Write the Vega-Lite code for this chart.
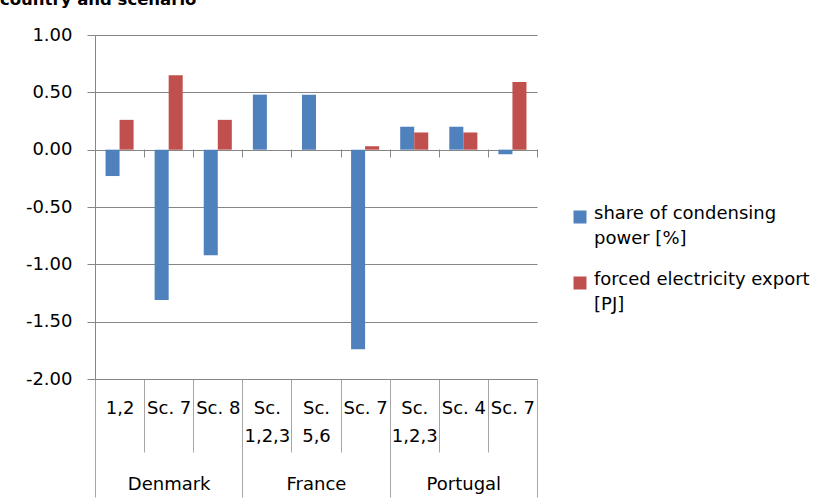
{
  "$schema": "https://vega.github.io/schema/vega-lite/v6.json",
  "width": 442,
  "height": 344,
  "autosize": "none",
  "padding": {"left": 95, "top": 35, "right": 293, "bottom": 122},
  "background": "white",
  "title": {"text": "country and scenario", "anchor": "start", "frame": "group", "font": "DejaVu Sans", "fontWeight": "bold", "fontSize": 16.5, "color": "#000000", "dx": -95, "dy": -5, "offset": 0, "baseline": "alphabetic"},
  "config": {
    "font": "DejaVu Sans",
    "view": {"stroke": null},
    "axis": {"labelFont": "DejaVu Sans", "labelFontSize": 18, "labelColor": "#000000", "titleFont": "DejaVu Sans"},
    "legend": {"labelFont": "DejaVu Sans"}
  },
  "data": {
    "values": [
      {"country": "Denmark", "slot": "Denmark|1,2", "series": "share of condensing power [%]", "value": -0.23},
      {"country": "Denmark", "slot": "Denmark|1,2", "series": "forced electricity export [PJ]", "value": 0.26},
      {"country": "Denmark", "slot": "Denmark|Sc. 7", "series": "share of condensing power [%]", "value": -1.31},
      {"country": "Denmark", "slot": "Denmark|Sc. 7", "series": "forced electricity export [PJ]", "value": 0.65},
      {"country": "Denmark", "slot": "Denmark|Sc. 8", "series": "share of condensing power [%]", "value": -0.92},
      {"country": "Denmark", "slot": "Denmark|Sc. 8", "series": "forced electricity export [PJ]", "value": 0.26},
      {"country": "France", "slot": "France|Sc.|1,2,3", "series": "share of condensing power [%]", "value": 0.48},
      {"country": "France", "slot": "France|Sc.|1,2,3", "series": "forced electricity export [PJ]", "value": 0},
      {"country": "France", "slot": "France|Sc.|5,6", "series": "share of condensing power [%]", "value": 0.48},
      {"country": "France", "slot": "France|Sc.|5,6", "series": "forced electricity export [PJ]", "value": 0},
      {"country": "France", "slot": "France|Sc. 7", "series": "share of condensing power [%]", "value": -1.74},
      {"country": "France", "slot": "France|Sc. 7", "series": "forced electricity export [PJ]", "value": 0.03},
      {"country": "Portugal", "slot": "Portugal|Sc.|1,2,3", "series": "share of condensing power [%]", "value": 0.2},
      {"country": "Portugal", "slot": "Portugal|Sc.|1,2,3", "series": "forced electricity export [PJ]", "value": 0.15},
      {"country": "Portugal", "slot": "Portugal|Sc. 4", "series": "share of condensing power [%]", "value": 0.2},
      {"country": "Portugal", "slot": "Portugal|Sc. 4", "series": "forced electricity export [PJ]", "value": 0.15},
      {"country": "Portugal", "slot": "Portugal|Sc. 7", "series": "share of condensing power [%]", "value": -0.04},
      {"country": "Portugal", "slot": "Portugal|Sc. 7", "series": "forced electricity export [PJ]", "value": 0.59}
    ]
  },
  "layer": [
    {
      "mark": {"type": "bar"},
      "encoding": {
        "x": {
          "field": "slot", "type": "nominal", "sort": null,
          "scale": {"paddingInner": 0, "paddingOuter": 0},
          "axis": {
            "orient": "bottom", "title": null, "labelAngle": 0,
            "labelExpr": "slice(split(datum.value, '|'), 1)",
            "tickBand": "extent", "tickExtra": false, "tickSize": 73, "tickColor": "#a6a6a6",
            "domainColor": "#868686", "labelPadding": -53,
            "labelLineHeight": 28, "labelBaseline": "top", "grid": false
          }
        },
        "y": {
          "field": "value", "type": "quantitative",
          "scale": {"domain": [-2, 1], "nice": false, "zero": false},
          "axis": {
            "title": null, "values": [-2, -1.5, -1, -0.5, 0, 0.5, 1],
            "labelExpr": "(datum.value < 0 ? '-' : '') + format(abs(datum.value), '.2f')",
            "tickSize": 8, "labelPadding": 15, "grid": true,
            "gridColor": "#868686", "tickColor": "#868686", "domainColor": "#868686"
          }
        },
        "xOffset": {
          "field": "series", "type": "nominal",
          "sort": ["share of condensing power [%]", "forced electricity export [PJ]"],
          "scale": {"paddingOuter": 0.75, "paddingInner": 0}
        },
        "color": {
          "field": "series", "type": "nominal",
          "scale": {"domain": ["share of condensing power [%]", "forced electricity export [PJ]"], "range": ["#4F81BD", "#C0504D"]},
          "legend": {
            "title": null, "orient": "none", "legendX": 476, "legendY": 173,
            "symbolType": "square", "symbolSize": 169, "symbolStrokeWidth": 0,
            "labelFontSize": 18, "labelColor": "#000000", "labelLimit": 0,
            "labelExpr": "datum.label == 'share of condensing power [%]' ? ['share of condensing', 'power [%]'] : ['forced electricity export', '[PJ]']",
            "labelOffset": 5, "rowPadding": 23, "padding": 0,
            "encode": {"labels": {"update": {"lineHeight": {"value": 25}, "dy": {"value": -3}}}}
          }
        }
      }
    },
    {
      "mark": {"type": "point", "opacity": 0},
      "encoding": {
        "x": {
          "field": "slot", "type": "nominal", "sort": null,
          "scale": {"paddingInner": 0, "paddingOuter": 0},
          "axis": {"orient": "bottom", "offset": -230, "title": null, "labels": false, "domain": false, "tickBand": "extent", "tickExtra": false, "tickSize": 8, "tickColor": "#868686", "grid": false}
        },
        "y": {"field": "value", "type": "quantitative"}
      }
    },
    {
      "mark": {"type": "point", "opacity": 0},
      "encoding": {
        "x": {
          "field": "country", "type": "nominal", "sort": null,
          "scale": {"paddingInner": 0, "paddingOuter": 0},
          "axis": {"orient": "bottom", "title": null, "labelAngle": 0, "domain": false, "tickBand": "extent", "tickExtra": false, "tickSize": 118, "tickColor": "#a6a6a6", "labelPadding": -22, "labelBaseline": "top", "grid": false}
        },
        "y": {"field": "value", "type": "quantitative"}
      }
    }
  ],
  "resolve": {"scale": {"x": "independent"}}
}
